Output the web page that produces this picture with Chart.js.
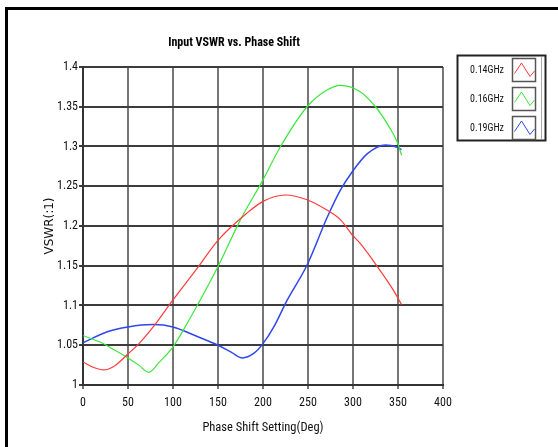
<!DOCTYPE html>
<html>
<head>
<meta charset="utf-8">
<script src="https://cdn.jsdelivr.net/npm/chart.js@4.4.1/dist/chart.umd.min.js"></script>
<style>
  body { margin: 0; background: #fff; }
  #wrap { width: 558px; height: 447px; }
</style>
</head>
<body>
<div id="wrap"><canvas id="vswrChart" width="558" height="447"></canvas></div>
<script>
  // values (phase in degrees, VSWR)
  let phase14 = [0, 12, 23, 35, 49, 63, 78, 100, 127, 150, 182, 200, 225, 249, 271, 286, 299, 308, 327, 345, 354]
  let vswr14  = [1.029, 1.022, 1.019, 1.024, 1.038, 1.053, 1.073, 1.107, 1.147, 1.182, 1.216, 1.231, 1.239, 1.233, 1.220, 1.208, 1.189, 1.178, 1.149, 1.119, 1.101]

  let phase16 = [0, 19, 35, 50, 62, 73, 85, 100, 116, 150, 175, 200, 219, 249, 271, 286, 308, 325, 340, 349, 354]
  let vswr16  = [1.062, 1.054, 1.044, 1.034, 1.025, 1.016, 1.029, 1.048, 1.078, 1.149, 1.208, 1.258, 1.299, 1.350, 1.371, 1.377, 1.369, 1.350, 1.325, 1.306, 1.289]

  let phase19 = [0, 27, 50, 78, 100, 127, 150, 165, 177, 190, 200, 212, 227, 249, 271, 286, 299, 316, 336, 349, 354]
  let vswr19  = [1.053, 1.067, 1.073, 1.076, 1.073, 1.061, 1.050, 1.041, 1.034, 1.040, 1.052, 1.073, 1.107, 1.151, 1.210, 1.245, 1.268, 1.291, 1.302, 1.299, 1.296]

  let seriesNames  = ["0.14GHz", "0.16GHz", "0.19GHz"]
  let seriesColors = ["#ff3a3a", "#3ae83a", "#2f47ee"]
  let xTicks = [0, 50, 100, 150, 200, 250, 300, 350, 400]
  let yTicks = [1, 1.05, 1.1, 1.15, 1.2, 1.25, 1.3, 1.35, 1.4]

  const narrow = "'Roboto Condensed', 'DejaVu Sans Condensed', sans-serif"

  function toPoints(xs, ys) {
    return xs.map((x, i) => ({ x: x, y: ys[i] }))
  }

  function makeSet(i, xs, ys, width) {
    return {
      label: seriesNames[i],
      data: toPoints(xs, ys),
      borderColor: seriesColors[i],
      backgroundColor: seriesColors[i],
      borderWidth: width,
      pointRadius: 0,
      fill: false,
      cubicInterpolationMode: 'monotone'
    }
  }

  // frame, title and the boxed legend on the right
  const decorations = {
    id: 'decorations',
    beforeDraw(chart) {
      const ctx = chart.ctx
      ctx.save()
      ctx.fillStyle = "#fff"
      ctx.fillRect(0, 0, chart.width, chart.height)
      ctx.strokeStyle = "#000"
      ctx.lineWidth = 3
      ctx.beginPath()
      ctx.moveTo(6.5, 447)
      ctx.lineTo(6.5, 8.5)
      ctx.lineTo(558, 8.5)
      ctx.stroke()
      ctx.restore()
    },
    afterDraw(chart) {
      const ctx = chart.ctx
      ctx.save()
      ctx.fillStyle = "#000"
      ctx.font = "bold 12px " + narrow
      ctx.textAlign = "center"
      ctx.textBaseline = "middle"
      ctx.fillText("Input VSWR vs. Phase Shift", 234, 43)

      // legend box
      ctx.strokeStyle = "#222"
      ctx.lineWidth = 2
      ctx.strokeRect(457.5, 55.5, 88, 85)
      ctx.strokeStyle = "#aaa"
      ctx.lineWidth = 1
      ctx.beginPath()
      ctx.moveTo(541.5, 57)
      ctx.lineTo(541.5, 139)
      ctx.stroke()

      ctx.font = "10px " + narrow
      ctx.textAlign = "right"
      for (let i = 0; i < seriesNames.length; i++) {
        let y0 = 58.5 + i * 29
        let x0 = 512.5
        ctx.fillStyle = "#111"
        ctx.fillText(seriesNames[i], 504, y0 + 12)
        ctx.strokeStyle = "#555"
        ctx.lineWidth = 1.5
        ctx.strokeRect(x0, y0, 23, 23)
        ctx.strokeStyle = seriesColors[i]
        ctx.lineWidth = 1
        ctx.beginPath()
        ctx.moveTo(x0 + 2, y0 + 15)
        ctx.lineTo(x0 + 9, y0 + 4.5)
        ctx.lineTo(x0 + 17.5, y0 + 18)
        ctx.lineTo(x0 + 22, y0 + 12.5)
        ctx.stroke()
      }
      ctx.restore()
    }
  }

  let ctx = document.getElementById("vswrChart").getContext("2d")
  let vswrChart = new Chart(ctx, {
    type: "line",
    data: {
      datasets: [
        makeSet(0, phase14, vswr14, 1.2),
        makeSet(1, phase16, vswr16, 1.2),
        makeSet(2, phase19, vswr19, 1.5)
      ]
    },
    options: {
      responsive: false,
      animation: false,
      layout: { padding: { left: 0, right: 115, top: 67, bottom: 0 } },
      plugins: {
        legend: { display: false },
        title: { display: false },
        tooltip: { enabled: false }
      },
      scales: {
        x: {
          type: "linear",
          min: 0,
          max: 400,
          afterFit: function(scale) { scale.height = 62 },
          afterBuildTicks: function(scale) { scale.ticks = xTicks.map(v => ({ value: v })) },
          grid: { color: "#767676", lineWidth: 2, tickLength: 4 },
          border: { color: "#333", width: 2 },
          ticks: { color: "#111", padding: 7, font: { family: narrow, size: 12 } },
          title: {
            display: true,
            text: "Phase Shift Setting(Deg)",
            color: "#111",
            font: { family: narrow, size: 12.5 },
            padding: { top: 0, bottom: 11.5 }
          }
        },
        y: {
          min: 1,
          max: 1.4,
          afterFit: function(scale) { scale.width = 83 },
          afterBuildTicks: function(scale) { scale.ticks = yTicks.map(v => ({ value: v })) },
          grid: { color: "#3c3c3c", lineWidth: 2, tickLength: 4 },
          border: { color: "#333", width: 2 },
          ticks: {
            color: "#111",
            padding: 1,
            font: { family: narrow, size: 12 },
            callback: function(v) { return String(+v.toFixed(2)) }
          },
          title: {
            display: true,
            text: "VSWR(:1)",
            color: "#111",
            font: { family: "'DejaVu Sans', sans-serif", size: 12 },
            padding: { top: 42.8, bottom: 0 }
          }
        }
      }
    },
    plugins: [decorations]
  })
</script>
</body>
</html>
